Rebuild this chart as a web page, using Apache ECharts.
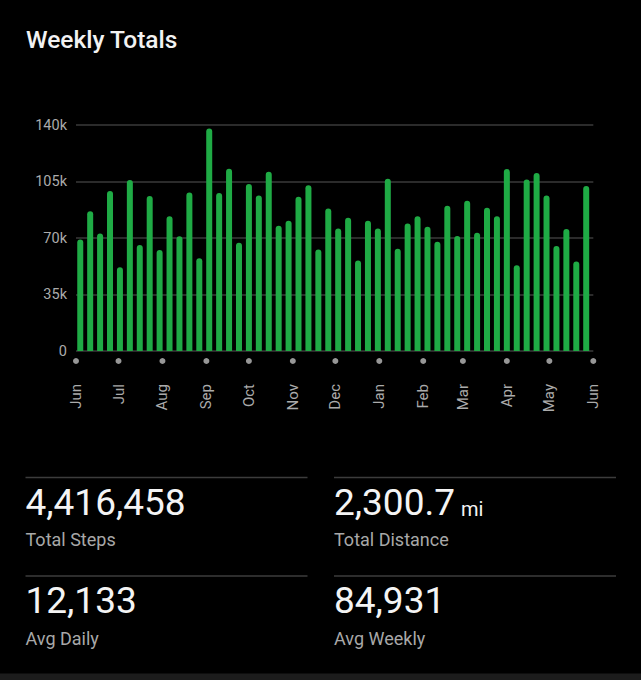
<!DOCTYPE html>
<html>
<head>
<meta charset="utf-8">
<script src="https://cdn.jsdelivr.net/npm/echarts@6/dist/echarts.min.js"></script>
<style>
  html, body { margin: 0; padding: 0; background: #000; }
  #chart { width: 641px; height: 680px; }
</style>
</head>
<body>
<div id="chart"></div>
<script>
// ---- data ----
const title = 'Weekly Totals';
const firstWeek = '2022-06-04';
const weeklySteps = [
  69100, 86600, 72800, 99100, 51900, 105900, 65600, 96000, 62500, 83500,
  71100, 98200, 57500, 137900, 97800, 112900, 67000, 103400, 96400, 111000,
  77600, 80700, 95500, 102600, 62900, 88300, 75900, 82500, 56000, 80700,
  75900, 106700, 63300, 79000, 83500, 76900, 67600, 90000, 71300, 93100,
  73200, 88700, 83500, 112700, 53100, 106300, 110200, 96400, 65100, 75500,
  55400, 102200
];
const monthStarts = ['2022-06-01','2022-07-01','2022-08-01','2022-09-01','2022-10-01','2022-11-01',
  '2022-12-01','2023-01-01','2023-02-01','2023-03-01','2023-04-01','2023-05-01','2023-06-01'];
const monthLabels = ['Jun','Jul','Aug','Sep','Oct','Nov','Dec','Jan','Feb','Mar','Apr','May','Jun'];
const yTicks = [0, 35000, 70000, 105000, 140000];
const yTickLabels = ['0', '35k', '70k', '105k', '140k'];
const stats = [
  { value: '4,416,458', unit: '', label: 'Total Steps' },
  { value: '2,300.7', unit: 'mi', label: 'Total Distance' },
  { value: '12,133', unit: '', label: 'Avg Daily' },
  { value: '84,931', unit: '', label: 'Avg Weekly' }
];

// ---- build ----
function ts(s) { const p = s.split('-').map(Number); return new Date(p[0], p[1] - 1, p[2]).getTime(); }
const weekDates = weeklySteps.map((_, i) => { const d = new Date(ts(firstWeek)); d.setDate(d.getDate() + 7 * i); return d.getTime(); });
const barData = weeklySteps.map((v, i) => [weekDates[i], v]);
const monthTs = monthStarts.map(ts);
function nearestMonth(v) {
  let best = 0;
  monthTs.forEach((t, i) => { if (Math.abs(t - v) < Math.abs(monthTs[best] - v)) best = i; });
  return Math.abs(monthTs[best] - v) < 3600000 ? monthLabels[best] : '';
}
const yName = {}; yTicks.forEach((t, i) => yName[t] = yTickLabels[i]);

const FONT = 'Roboto, "Noto Sans", sans-serif';
const graphics = [
  { type: 'text', left: 26, top: 27, style: { text: title, fill: '#f2f2f2', font: '500 24.5px ' + FONT } }
];
const cols = [25.5, 334];
const rows = [477.5, 576];
stats.forEach((s, i) => {
  const x = cols[i % 2], y = rows[Math.floor(i / 2)];
  graphics.push({ type: 'line', shape: { x1: x, y1: y, x2: x + 282, y2: y }, style: { stroke: '#3c3c3c', lineWidth: 1.5 } });
  graphics.push({ type: 'text', x: x, y: y + 43, style: { text: s.value, fill: '#f4f4f4', font: '37px ' + FONT, verticalAlign: 'bottom' } });
  if (s.unit) graphics.push({ type: 'text', x: x + 127, y: y + 41.5, style: { text: s.unit, fill: '#f4f4f4', font: '20px ' + FONT, verticalAlign: 'bottom' } });
  graphics.push({ type: 'text', x: x, y: y + 62, style: { text: s.label, fill: '#a8a8a8', font: '18px ' + FONT, verticalAlign: 'middle' } });
});
graphics.push({ type: 'rect', shape: { x: 0, y: 673.5, width: 641, height: 7 }, style: { fill: '#1c1c1c' } });

const chart = echarts.init(document.getElementById('chart'), null, { renderer: 'svg' });
chart.setOption({
  backgroundColor: '#000',
  animation: false,
  textStyle: { fontFamily: FONT },
  grid: { left: 76, right: 47.7, top: 125, bottom: 329, containLabel: false },
  xAxis: {
    type: 'value',
    min: monthTs[0],
    max: monthTs[monthTs.length - 1],
    scale: true,
    axisLine: { show: false },
    axisTick: { show: false },
    splitLine: { show: false },
    axisLabel: {
      customValues: monthTs,
      rotate: 90,
      margin: 33,
      color: '#ababab',
      fontSize: 15,
      fontFamily: FONT,
      hideOverlap: false,
      showMinLabel: true,
      showMaxLabel: true,
      formatter: v => nearestMonth(v)
    }
  },
  yAxis: {
    type: 'value',
    min: 0,
    max: 140000,
    interval: 35000,
    axisLine: { show: false },
    axisTick: { show: false },
    splitLine: { lineStyle: { color: '#3a3a3a', width: 1.5 } },
    axisLabel: { color: '#ababab', fontSize: 14.5, margin: 9, fontFamily: FONT, formatter: v => yName[v] }
  },
  series: [
    {
      type: 'bar',
      data: barData,
      barWidth: 6,
      itemStyle: { color: '#1fab45', borderRadius: [3, 3, 0, 0] },
      z: 3
    },
    {
      type: 'scatter',
      data: monthTs.map(t => [t, 0]),
      symbol: 'circle',
      symbolSize: 6,
      symbolOffset: [0, 10],
      clip: false,
      silent: true,
      itemStyle: { color: '#bdbdbd' }
    }
  ],
  graphic: graphics
});
</script>
</body>
</html>
